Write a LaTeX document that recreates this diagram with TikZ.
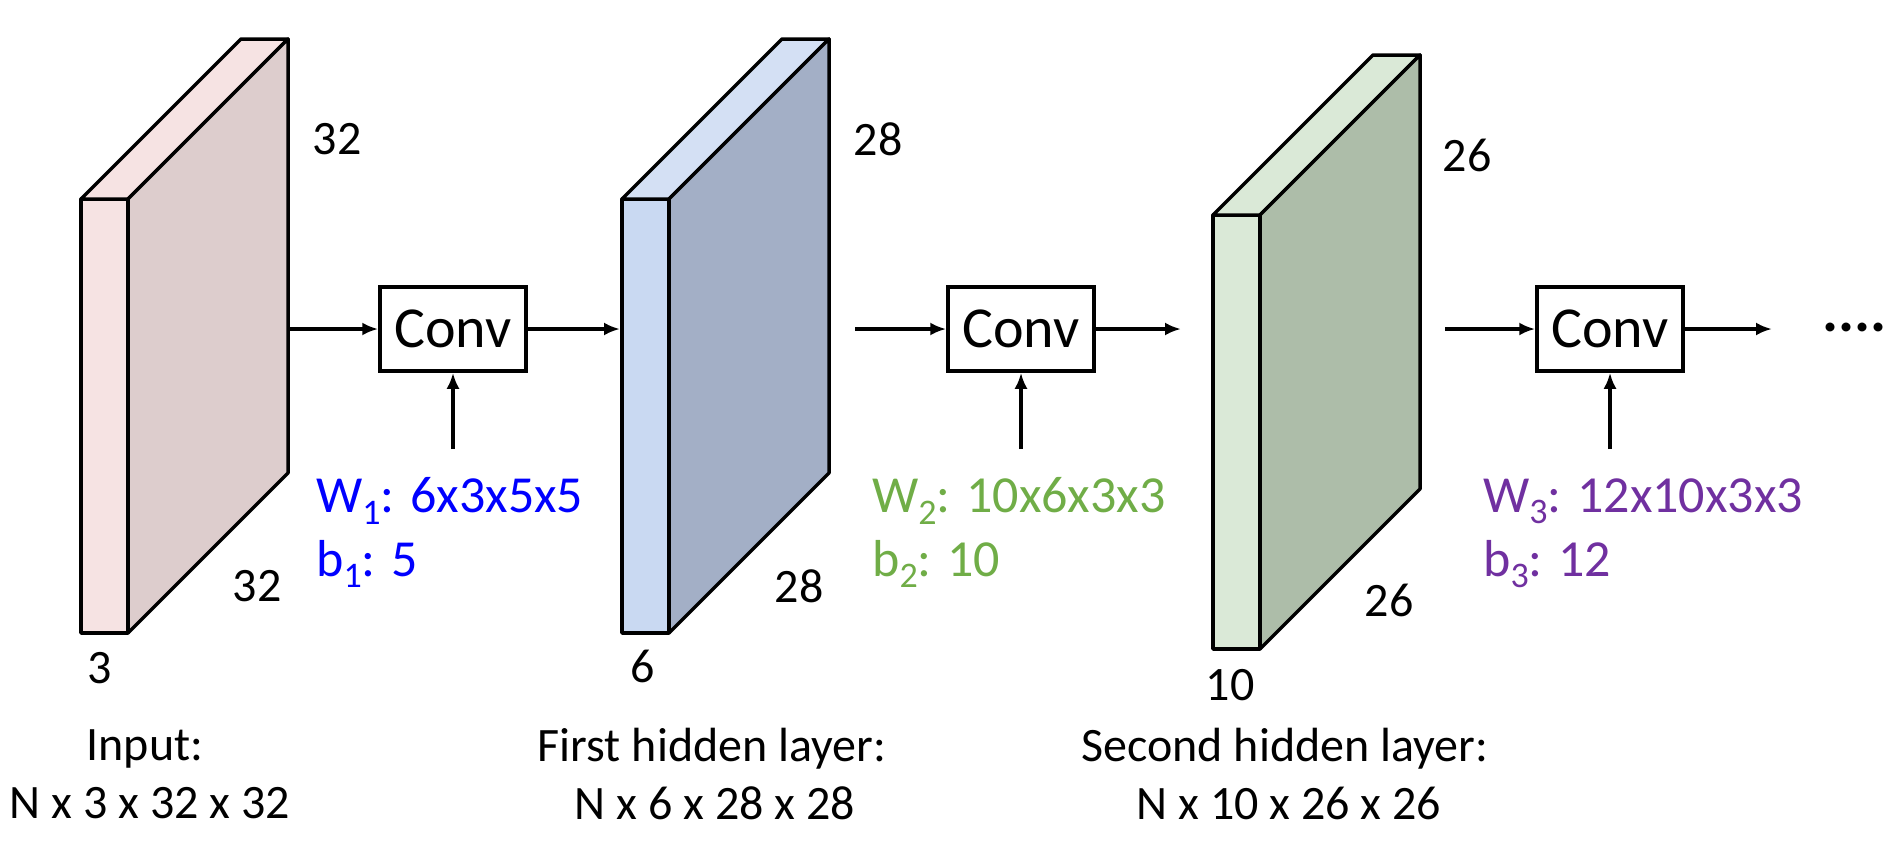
\documentclass[tikz,border=0pt]{standalone}
\usepackage{fontspec}
\setmainfont{Carlito}
\usetikzlibrary{arrows.meta}
\definecolor{pinkF}{HTML}{F6E3E3}
\definecolor{pinkS}{HTML}{DDCDCD}
\definecolor{blueF}{HTML}{C9D9F2}
\definecolor{blueT}{HTML}{D4E0F4}
\definecolor{blueS}{HTML}{A3AFC6}
\definecolor{greenF}{HTML}{DAE9D7}
\definecolor{greenS}{HTML}{ADBDA9}
\definecolor{wblue}{HTML}{0000FF}
\definecolor{wgreen}{HTML}{70AD47}
\definecolor{wpurple}{HTML}{7030A0}
\newcommand{\drawslab}[5]{% x0, y0, front, top, side
  \filldraw[slabline,fill=#3] (#1,#2) rectangle ({#1+47},{#2+434});
  \filldraw[slabline,fill=#4] (#1,#2) -- ({#1+160},{#2-160}) -- ({#1+207},{#2-160}) -- ({#1+47},#2) -- cycle;
  \filldraw[slabline,fill=#5] ({#1+47},#2) -- ({#1+207},{#2-160}) -- ({#1+207},{#2+274}) -- ({#1+47},{#2+434}) -- cycle;
}
\newcommand{\wsub}[1]{\raisebox{-0.22em}{\fontsize{36}{40}\selectfont #1}}
\begin{document}
\begin{tikzpicture}[x=1pt,y=-1pt,
  slabline/.style={line width=3.5pt,line join=round},
  convbox/.style={draw,line width=3.5pt,minimum width=146pt,minimum height=84pt,inner sep=0pt,font=\fontsize{58}{68}\selectfont},
  txt/.style={inner sep=0pt,font=\fontsize{48}{58}\selectfont},
  wtxt/.style={inner sep=0pt,anchor=west,font=\fontsize{52}{62}\selectfont},
  arr/.style={line width=3.5pt,-{Latex[length=16pt,width=13pt]}},
]
\useasboundingbox (0,0) rectangle (1893,849);
% slabs
\drawslab{81}{199}{pinkF}{pinkF}{pinkS}
\drawslab{622}{199}{blueF}{blueT}{blueS}
\drawslab{1213}{215}{greenF}{greenF}{greenS}
% slab dimension labels
\node[txt] (d1a) at (337,139) {32};
\node[txt] (d1b) at (257,586) {32};
\node[txt] (d1c) at (100,668) {3};
\node[txt] (d2a) at (878,139) {28};
\node[txt] (d2b) at (799,586) {28};
\node[txt] (d2c) at (643,666) {6};
\node[txt] (d3a) at (1467,155) {26};
\node[txt] (d3b) at (1389,600) {26};
\node[txt] (d3c) at (1230,685) {10};
% conv boxes
\node[convbox] (c1) at (453,329) {Conv};
\node[convbox] (c2) at (1021,329) {Conv};
\node[convbox] (c3) at (1610,329) {Conv};
% connector end points
\coordinate (s1o) at (288,329);
\coordinate (s2i) at (620,329);
\coordinate (s2o) at (855,329);
\coordinate (s3i) at (1181,329);
\coordinate (s3o) at (1445,329);
\coordinate (s4i) at (1772,329);
\coordinate (w1) at (453,449);
\coordinate (w2) at (1021,449);
\coordinate (w3) at (1610,449);
\draw[arr] (s1o) -- (c1.west);
\draw[arr] (c1.east) -- (s2i);
\draw[arr] (s2o) -- (c2.west);
\draw[arr] (c2.east) -- (s3i);
\draw[arr] (s3o) -- (c3.west);
\draw[arr] (c3.east) -- (s4i);
\draw[arr] (w1) -- (c1.south);
\draw[arr] (w2) -- (c2.south);
\draw[arr] (w3) -- (c3.south);
\node[inner sep=0pt,anchor=base west,font=\fontsize{60}{66}\bfseries] (dots) at (1822,331) {....};
% weights
\node[wtxt,text=wblue] (W1) at (316,501) {W\wsub{1}: 6x3x5x5};
\node[wtxt,text=wblue] (b1) at (316,564) {b\wsub{1}: 5};
\node[wtxt,text=wgreen] (W2) at (872,501) {W\wsub{2}: 10x6x3x3};
\node[wtxt,text=wgreen] (b2) at (872,564) {b\wsub{2}: 10};
\node[wtxt,text=wpurple] (W3) at (1483,501) {W\wsub{3}: 12x10x3x3};
\node[wtxt,text=wpurple] (b3) at (1483,564) {b\wsub{3}: 12};
% layer captions
\node[txt] (l1a) at (145,749) {Input:};
\node[txt] (l1b) at (150,803) {N x 3 x 32 x 32};
\node[txt] (l2a) at (712,749) {First hidden layer:};
\node[txt] (l2b) at (715,803) {N x 6 x 28 x 28};
\node[txt] (l3a) at (1285,749) {Second hidden layer:};
\node[txt] (l3b) at (1289,803) {N x 10 x 26 x 26};
\end{tikzpicture}
\end{document}
